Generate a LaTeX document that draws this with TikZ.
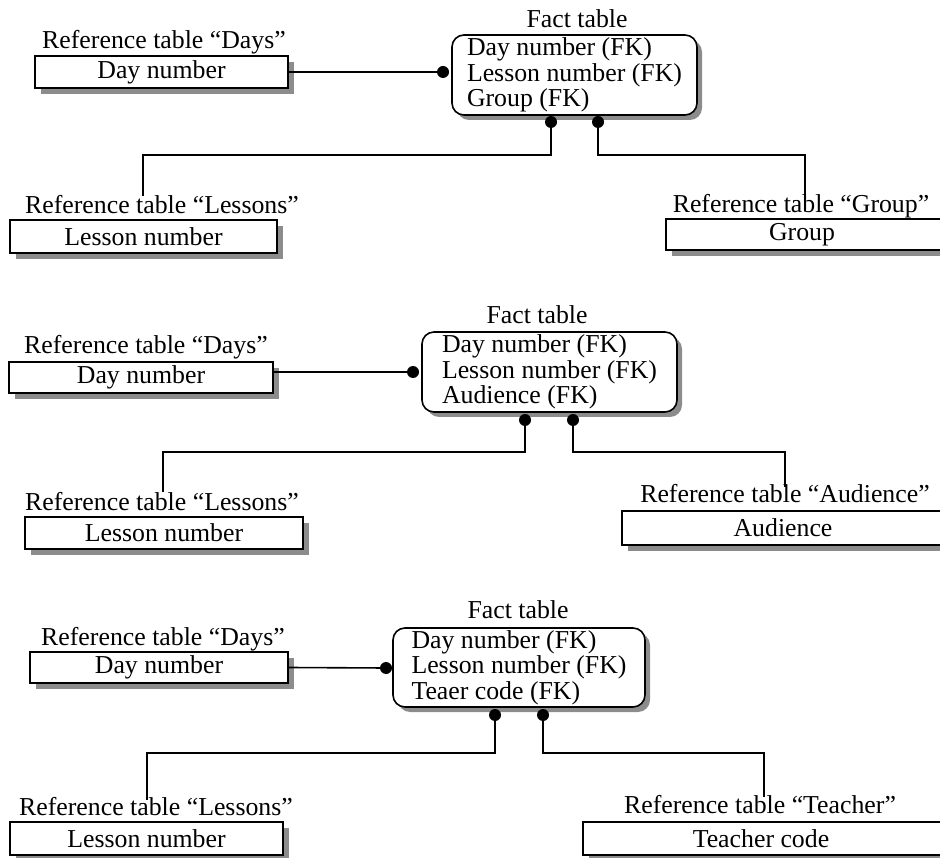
\documentclass[tikz,border=0pt]{standalone}
\usepackage{fontspec}
\setmainfont{Liberation Serif}
\usetikzlibrary{shadows}
\tikzset{
  reftab/.style={draw, fill=white, line width=1.6pt, minimum height=32pt, inner sep=0pt,
    font=\fontsize{25.8}{25.5}\selectfont,
    drop shadow={shadow xshift=6pt, shadow yshift=-6pt, fill=black!45, opacity=1}},
  reflab/.style={inner sep=0pt, text height=17pt, text depth=6pt, font=\fontsize{25.8}{25.5}\selectfont},
  facttab/.style={draw, fill=white, line width=1.6pt, rounded corners=12pt, align=left,
    minimum height=80pt, inner sep=0pt, font=\fontsize{25.8}{25.5}\selectfont,
    drop shadow={shadow xshift=5pt, shadow yshift=-5pt, fill=black!45, opacity=1}},
  fkdot/.style={circle, fill=black, inner sep=0pt, minimum size=12pt},
  link/.style={line width=1.6pt}
}
\begin{document}
\begin{tikzpicture}[x=1pt, y=-1pt]
  \useasboundingbox (0,0) rectangle (940,858);
  %%%%% FIRST: GROUP %%%%%
  \node[reflab] (days1lab) at (164,43) {Reference table “Days”};
  \node[reftab, minimum width=253pt] (days1) at (161.5,72) {Day number};
  \node[reflab] (fact1lab) at (577,22) {Fact table};
  \node[facttab, minimum width=245pt] (fact1) at (574.5,75) {Day number (FK)\\Lesson number (FK)\\Group (FK)};
  \node[fkdot] (f1w) at (443,72) {};
  \node[fkdot] (f1l) at (551,122) {};
  \node[fkdot] (f1r) at (598,122) {};
  \node[reflab] (lessons1lab) at (162,208) {Reference table “Lessons”};
  \node[reftab, minimum width=267pt, minimum height=33pt] (lessons1) at (143.5,236.5) {Lesson number};
  \node[reflab] (group1lab) at (801,207) {Reference table “Group”};
  \node[reftab, minimum width=280pt, minimum height=31pt] (group1) at (806,234.5) {};
  \node[font=\fontsize{25.8}{25.5}\selectfont, inner sep=0pt] (group1txt) at (802,234.5) {Group};
  \coordinate (l1bend) at (143,155);
  \coordinate (l1top) at (143,196);
  \coordinate (g1bend) at (805,155);
  \coordinate (g1top) at (805,195);
  \draw[link] (days1.east) -- (f1w);
  \draw[link] (f1l) |- (l1bend) -- (l1top);
  \draw[link] (f1r) |- (g1bend) -- (g1top);
  %%%%% SECOND: AUDIENCE %%%%%
  \node[reflab] (days2lab) at (146,348) {Reference table “Days”};
  \node[reftab, minimum width=264pt, minimum height=31pt] (days2) at (141,377.5) {Day number};
  \node[reflab] (fact2lab) at (537,318) {Fact table};
  \node[facttab, minimum width=255pt] (fact2) at (549.5,372) {Day number (FK)\\Lesson number (FK)\\Audience (FK)};
  \node[fkdot] (f2w) at (413,372) {};
  \node[fkdot] (f2l) at (525,420) {};
  \node[fkdot] (f2r) at (573,420) {};
  \node[reflab] (lessons2lab) at (162,505) {Reference table “Lessons”};
  \node[reftab, minimum width=278pt] (lessons2) at (164,533) {Lesson number};
  \node[reflab] (aud2lab) at (785,497) {Reference table “Audience”};
  \node[reftab, minimum width=324pt, minimum height=34pt] (aud2) at (784,528) {};
  \node[font=\fontsize{25.8}{25.5}\selectfont, inner sep=0pt] (aud2txt) at (783,528) {Audience};
  \coordinate (l2bend) at (163,452);
  \coordinate (l2top) at (163,492);
  \coordinate (a2bend) at (785,452);
  \coordinate (a2top) at (785,487);
  \draw[link] (days2.east |- f2w) -- (f2w);
  \draw[link] (f2l) |- (l2bend) -- (l2top);
  \draw[link] (f2r) |- (a2bend) -- (a2top);
  %%%%% THIRD: TEACHER %%%%%
  \node[reflab] (days3lab) at (163,640) {Reference table “Days”};
  \node[reftab, minimum width=258pt, minimum height=31pt] (days3) at (159,667.5) {Day number};
  \node[reflab] (fact3lab) at (518,613) {Fact table};
  \node[facttab, minimum width=252pt, minimum height=79pt] (fact3) at (519,667.5) {Day number (FK)\\Lesson number (FK)\\Teaer code (FK)};
  \node[fkdot] (f3w) at (386,668) {};
  \node[fkdot] (f3l) at (495,715) {};
  \node[fkdot] (f3r) at (543,715) {};
  \node[reflab] (lessons3lab) at (156,810) {Reference table “Lessons”};
  \node[reftab, minimum width=273pt, minimum height=33pt] (lessons3) at (146.5,838.5) {Lesson number};
  \node[reflab] (teach3lab) at (760,808) {Reference table “Teacher”};
  \node[reftab, minimum width=363pt, minimum height=33pt] (teach3) at (764.5,838.5) {};
  \node[font=\fontsize{25.8}{25.5}\selectfont, inner sep=0pt] (teach3txt) at (761,838.5) {Teacher code};
  \coordinate (l3bend) at (147,753);
  \coordinate (l3top) at (147,800);
  \coordinate (t3bend) at (764,753);
  \coordinate (t3top) at (764,797);
  \draw[link] (days3.east) -- (f3w);
  \draw[link] (f3l) |- (l3bend) -- (l3top);
  \draw[link] (f3r) |- (t3bend) -- (t3top);
\end{tikzpicture}
\end{document}
